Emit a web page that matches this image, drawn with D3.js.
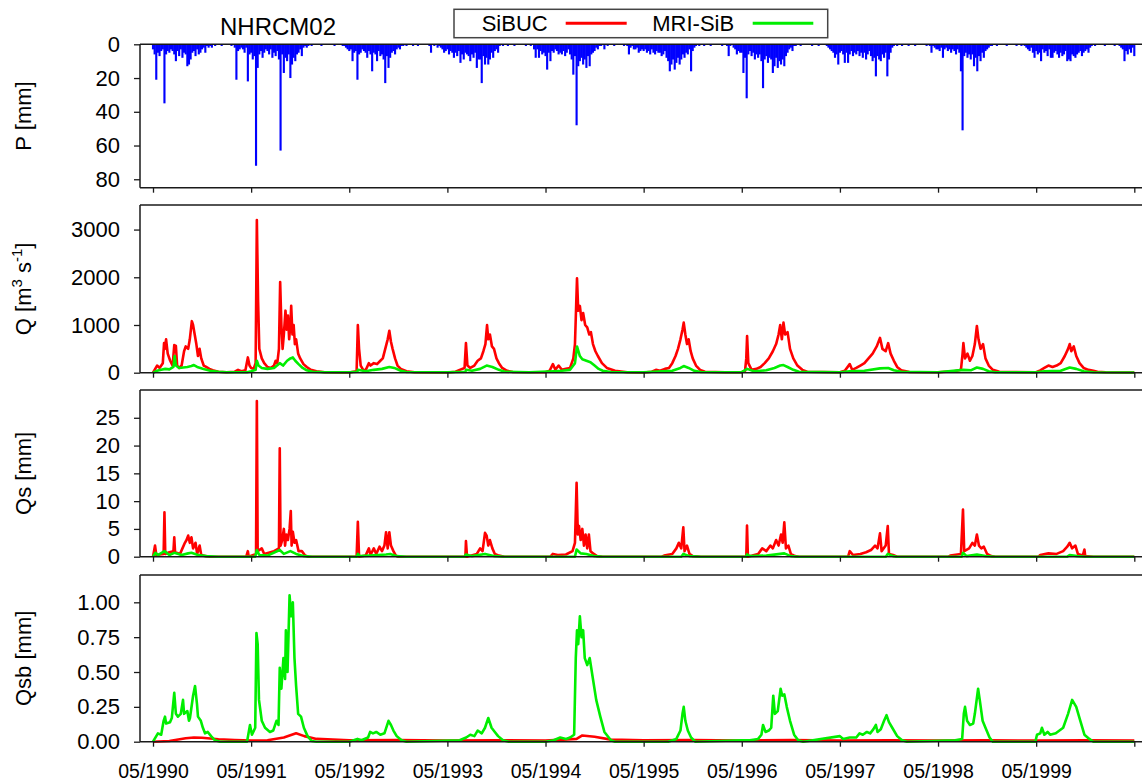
<!DOCTYPE html>
<html>
<head>
<meta charset="utf-8">
<script src="https://cdn.jsdelivr.net/npm/d3@7"></script>
<style>
  body { margin: 0; background: #fff; }
  text { font-family: "Liberation Sans", Arial, sans-serif; }
</style>
</head>
<body>
<div id="chart"></div>
<script>
// time is in months since 05/1990
const yearTicks = [0, 12, 24, 36, 48, 60, 72, 84, 96, 108, 120];

// precipitation [mm], one value every 0.2 month starting 05/1990
const pStep = 0.2;
const precip = [
  3,6,21,5,7, 4,3,35,6,4, 5,3,4,6,10, 4,7,3,8,5, 6,13,12,9,5, 4,7,3,6,5, 3,2,5,1,2, 1,2,0,1,0, 0,0,1,0,0, 0,0,0,1,0, 2,21,4,3,2, 3,5,2,22,6,
  5,9,7,72,14, 6,4,8,5,3, 4,6,3,8,5, 7,4,9,63,6, 17,8,10,6,20, 12,8,10,6,5, 3,7,2,1,2, 1,0,1,0,0, 0,0,0,1,0, 0,0,0,0,0, 0,1,0,0,0, 0,1,1,2,3,
  4,3,10,5,4, 21,6,5,3,4, 5,8,4,6,16, 5,6,10,4,7, 6,9,23,7,14, 8,5,4,6,3, 2,3,1,1,0, 1,0,0,0,1, 0,0,1,0,0, 0,0,0,0,1, 5,0,1,0,2, 1,2,3,5,4,
  3,6,4,5,8, 5,7,4,11,6, 9,5,6,7,10, 6,8,5,14,9, 9,23,7,12,8, 12,9,5,8,4, 3,5,1,0,1, 0,0,1,0,0, 0,1,0,0,0, 0,0,0,1,0, 0,1,0,3,8, 3,8,4,6,5,
  7,15,5,10,4, 5,3,4,6,5, 6,4,7,5,3, 6,9,18,7,48, 13,10,8,12,9, 14,7,13,6,5, 4,2,3,1,1, 0,3,0,1,0, 0,0,1,0,0, 0,0,0,1,0, 1,6,2,1,3, 3,2,5,4,3,
  4,3,5,4,6, 3,5,6,4,5, 5,7,6,4,8, 10,16,12,9,15, 11,8,12,9,6, 8,5,6,3,16, 4,2,1,0,1, 0,0,1,0,0, 0,1,0,0,0, 0,0,0,1,0, 0,1,7,1,0, 2,3,6,4,5,
  5,17,8,32,6, 4,7,5,9,6, 8,6,10,26,9, 7,11,8,9,17, 13,8,14,10,12, 9,13,7,5,3, 2,4,1,1,0, 0,1,0,0,0, 0,0,0,1,0, 0,0,1,0,0, 0,0,1,2,3, 4,5,8,6,12,
  5,4,6,11,5, 11,6,4,7,5, 6,4,7,5,8, 5,9,6,4,7, 10,8,19,7,9, 10,6,8,5,19, 9,5,2,1,0, 1,0,0,1,0, 0,0,1,0,0, 0,1,0,0,0, 0,0,0,1,0, 1,5,1,2,3,
  3,4,2,8,3, 2,4,3,5,3, 4,6,3,5,16, 51,7,5,8,6, 9,6,13,8,16, 7,10,5,8,4, 3,2,1,1,0, 0,1,0,0,0, 0,0,1,0,0, 0,0,0,1,0, 0,1,0,1,2, 3,4,2,5,8,
  4,6,5,10,3, 5,4,7,3,8, 8,5,4,6,8, 5,7,6,4,10, 9,10,6,7,8, 6,5,4,7,5, 4,3,5,2,1, 0,1,0,0,0, 0,0,1,0,0, 0,0,0,1,0, 0,1,2,3,10, 4,6,3,5,2,
  7
];

// discharge Q [m3/s], [month, value]
const qSibuc = [[0,0],[0.5,150],[0.8,100],[1.2,200],[1.35,620],[1.45,500],[1.6,700],[1.8,400],[2.1,250],[2.4,150],[2.6,580],[2.8,560],[2.95,150],[3.2,100],[3.5,150],[3.8,450],[4.0,550],[4.3,500],[4.5,700],[4.75,1080],[4.9,1000],[5.1,800],[5.3,600],[5.5,350],[5.7,500],[5.9,300],[6.2,150],[6.5,120],[6.9,80],[7.3,50],[8,20],[9,10],[10,20],[10.4,60],[10.8,30],[11.3,50],[11.6,320],[11.8,150],[12.0,100],[12.3,80],[12.55,200],[12.7,3200],[12.85,1500],[13.0,500],[13.3,300],[13.6,200],[14.0,120],[14.4,100],[14.8,150],[15.0,250],[15.2,200],[15.4,500],[15.55,1900],[15.7,1000],[15.85,500],[16.0,800],[16.2,1300],[16.35,900],[16.5,1200],[16.65,700],[16.8,1000],[16.9,1400],[17.05,800],[17.2,1000],[17.35,600],[17.5,700],[17.75,400],[18.0,300],[18.4,180],[18.8,120],[19.3,60],[20,30],[21,10],[23,5],
  [24,5],[24.5,20],[24.9,30],[25.05,1000],[25.2,500],[25.4,150],[25.7,60],[26,50],[26.4,200],[26.6,150],[27,200],[27.4,180],[27.8,250],[28.1,300],[28.4,500],[28.7,700],[28.9,880],[29.1,650],[29.3,500],[29.6,300],[29.9,150],[30.3,80],[31,30],[32,10],
  [36,5],[37,20],[37.5,60],[38.1,100],[38.27,620],[38.45,150],[38.8,100],[39.3,150],[39.7,250],[40.1,300],[40.4,450],[40.65,600],[40.85,1000],[41.0,700],[41.2,800],[41.45,550],[41.7,500],[42.0,300],[42.3,200],[42.7,100],[43.3,40],[44,15],
  [48,10],[48.5,40],[48.9,180],[49.2,60],[49.6,150],[50.0,60],[50.5,80],[51.0,100],[51.4,300],[51.6,600],[51.85,1980],[52.0,1300],[52.2,1400],[52.4,1100],[52.6,1250],[52.85,1000],[53.1,950],[53.35,800],[53.55,850],[53.8,600],[54.1,450],[54.4,350],[54.9,200],[55.5,100],[56.5,40],[58,10],
  [60,5],[61,20],[61.5,60],[62,40],[62.6,80],[63.1,100],[63.5,200],[63.9,350],[64.2,500],[64.5,700],[64.75,900],[64.9,1050],[65.1,800],[65.3,600],[65.5,700],[65.75,450],[66.0,300],[66.4,150],[66.9,60],[67.5,20],[70,10],
  [72,10],[72.4,40],[72.55,300],[72.65,770],[72.8,200],[73.2,60],[73.8,80],[74.3,120],[74.8,200],[75.3,300],[75.8,450],[76.2,600],[76.5,800],[76.7,1000],[76.9,700],[77.1,1050],[77.3,800],[77.6,850],[77.9,500],[78.3,300],[78.8,150],[79.4,60],[80,20],
  [84,10],[84.6,40],[85.2,180],[85.5,60],[86.0,100],[86.5,150],[87.0,200],[87.5,300],[88.0,400],[88.5,550],[88.9,730],[89.2,500],[89.6,450],[89.9,620],[90.2,400],[90.6,250],[91.0,120],[91.5,50],[92.5,15],
  [96,10],[97,20],[98,30],[98.8,60],[99.0,400],[99.1,620],[99.3,300],[99.6,400],[99.9,250],[100.2,350],[100.5,600],[100.75,980],[100.95,700],[101.2,500],[101.5,600],[101.8,300],[102.2,150],[102.7,60],[103.5,20],
  [108,10],[108.5,50],[109.0,100],[109.5,150],[110.0,120],[110.5,150],[111.0,200],[111.5,350],[111.9,500],[112.1,600],[112.3,450],[112.6,550],[112.9,350],[113.3,200],[113.8,100],[114.4,60],[115,40],[115.5,20],[116.5,10],[120,5]];

const qMri = [[0,0],[0.5,40],[1.0,60],[1.5,80],[2.0,70],[2.5,120],[2.65,350],[2.8,150],[3.2,100],[3.7,110],[4.2,120],[4.7,140],[5.0,160],[5.4,120],[5.8,100],[6.3,70],[7.0,40],[8,20],[9,10],[11.5,10],[12.0,30],[12.55,60],[12.7,250],[12.9,150],[13.3,100],[14,80],[14.8,100],[15.5,200],[15.9,150],[16.4,250],[16.8,300],[17.1,320],[17.4,250],[17.8,180],[18.3,100],[18.8,50],[19.5,20],[21,10],
  [24,10],[25.0,20],[25.05,60],[26,30],[27,60],[28,80],[28.9,120],[29.5,100],[30.3,40],[31,15],[36,10],[38.2,20],[38.3,60],[39,40],[40,80],[40.8,150],[41.5,120],[42.3,60],[43,20],[46,10],
  [49,30],[50,40],[51,60],[51.6,200],[51.85,550],[52.2,350],[52.5,280],[53,250],[53.5,220],[54,150],[54.5,80],[55,40],[56,15],[60,10],
  [63.5,40],[64.5,100],[64.9,140],[65.5,100],[66.2,40],[67,15],[72,10],[72.65,80],[73.5,30],[75,50],[76,100],[76.7,150],[77.1,160],[77.6,120],[78.3,60],[79,20],
  [84,10],[85.2,30],[87,40],[88.9,90],[89.9,100],[90.6,50],[91.5,20],[96,10],[99.1,60],[100,50],[100.75,110],[101.5,80],[102.2,30],[103,10],
  [108,10],[109,30],[111,40],[112.1,110],[112.9,80],[113.8,30],[115,10],[120,5]];

// surface runoff Qs [mm]
const qsSibuc = [[0,0],[0.25,2],[0.4,0.3],[1.3,0.5],[1.4,8],[1.5,0.5],[2.0,0.8],[2.5,1],[2.6,3.5],[2.7,0.8],[3.3,0.5],[3.6,1.5],[3.9,2.5],[4.1,3],[4.3,3.8],[4.5,2.5],[4.7,3.5],[4.9,1.5],[5.2,2.5],[5.4,0.5],[5.7,2],[5.9,0.3],[6.5,0.1],[7,0],
  [11.4,0],[11.6,1],[11.7,0],[12.6,0.5],[12.7,28],[12.8,1],[13.3,1.5],[13.6,0.5],[14.8,1],[15.4,1.5],[15.5,19.5],[15.6,2],[15.8,3],[16.0,5],[16.15,2],[16.3,4],[16.5,3],[16.7,5],[16.85,8.2],[16.95,2],[17.1,4.5],[17.3,2.5],[17.5,3],[17.8,1],[18.2,1],[18.6,0.2],[19,0],
  [24.9,0],[25.05,6.3],[25.2,0],[26,0.2],[26.4,1.5],[26.6,0.3],[27,1.5],[27.3,0.5],[27.7,1.8],[28.0,1],[28.3,2],[28.5,4.4],[28.7,1.5],[28.9,4.4],[29.1,2],[29.4,1],[29.7,0.2],[30,0],
  [38.2,0],[38.27,2.8],[38.4,0],[39.6,0.5],[40.0,1.5],[40.3,1],[40.6,4.3],[40.8,3.8],[41.0,2],[41.2,3],[41.5,1.5],[41.8,0.5],[42.3,0.2],[43,0],
  [48.6,0],[48.9,0.5],[49.5,0.3],[50.5,0.4],[51.3,1],[51.6,2.5],[51.8,13.3],[51.95,4],[52.1,5.5],[52.3,3],[52.5,5],[52.7,2],[52.9,4],[53.1,1.5],[53.3,4],[53.5,1],[53.9,0.5],[54.3,0.1],[55,0],
  [62.2,0],[62.5,0.2],[63.5,0.5],[64.0,1.5],[64.3,2.5],[64.6,1.5],[64.85,5.3],[65.0,1],[65.3,2],[65.6,0.5],[66,0.1],[67,0],
  [72.55,0],[72.64,5.6],[72.75,0],[73.3,0.2],[74,0.5],[74.5,1.5],[75,1],[75.5,2],[75.8,1.5],[76.2,3],[76.5,2],[76.8,4],[77.0,2.5],[77.2,6.2],[77.4,1.5],[77.7,2],[78,0.5],[78.5,0.1],[79,0],
  [85.0,0],[85.2,1],[85.6,0.3],[86.5,0.5],[87.2,0.8],[87.8,1.2],[88.3,2],[88.6,1.5],[88.9,4.2],[89.1,1],[89.6,2],[89.85,5.5],[90.0,0.5],[90.5,0.3],[91,0],
  [97.3,0],[97.5,0.2],[98.8,0.5],[99.05,8.5],[99.2,1],[99.8,1.5],[100.2,2.5],[100.5,2],[100.75,4],[101.0,2],[101.3,1.5],[101.6,1.8],[102.0,0.5],[102.5,0.1],[103,0],
  [108.3,0],[108.5,0.3],[109.5,0.6],[110.5,0.5],[111.3,1],[111.8,1.8],[112.1,2.5],[112.4,1.5],[112.8,2],[113.1,0.5],[113.7,0.2],[113.9,1.3],[114.0,0.1],[115,0],[120,0]];

const qsMri = [[0,0],[0.3,0.7],[0.6,0.3],[1.4,1],[2.0,0.3],[2.6,0.7],[3.5,0.3],[4.3,0.6],[4.7,0.7],[5.5,0.3],[6.5,0.1],[8,0],[12.5,0],[12.7,1.2],[13,0.3],[14,0.2],[15.5,1.2],[16,0.5],[16.8,1],[17.5,0.5],[18.5,0.1],[19.5,0],
  [24.9,0],[25.05,0.5],[25.3,0.1],[26.5,0.2],[28.5,0.4],[29,0.5],[29.8,0.1],[31,0],[38.1,0],[38.27,0.4],[39,0.1],[40.6,0.5],[41.8,0.1],[43,0],
  [51.6,0],[51.8,1.3],[52.3,0.6],[53,0.5],[54,0.1],[55,0],[64.6,0],[64.85,0.5],[65.6,0.1],[67,0],[72.5,0],[72.64,0.4],[73,0.1],[75,0.2],[77.2,0.6],[78,0.1],[79,0],
  [89.6,0],[89.85,0.5],[90.5,0.1],[91,0],[98.9,0],[99.05,0.7],[99.5,0.1],[100.75,0.4],[101.8,0.1],[103,0],[111.8,0],[112.1,0.3],[113,0.1],[114,0],[120,0]];

// baseflow Qsb [mm]
const qsbSibuc = [[0,0],[2,0.005],[4,0.025],[5,0.03],[6,0.028],[8,0.018],[10,0.012],[12,0.008],[14,0.01],[16,0.03],[17.5,0.06],[18.5,0.04],[20,0.02],[24,0.01],[30,0.012],[36,0.008],[42,0.01],[48,0.008],[51.8,0.02],[52.5,0.045],[54,0.035],[56,0.015],[60,0.01],[66,0.012],[72,0.008],[78,0.012],[84,0.008],[90,0.01],[96,0.008],[102,0.01],[108,0.008],[114,0.01],[120,0.008]];

const qsbMri = [[0,0],[0.6,0.06],[1.0,0.05],[1.3,0.15],[1.47,0.18],[1.6,0.13],[2.08,0.14],[2.3,0.17],[2.6,0.35],[2.8,0.2],[3.05,0.18],[3.4,0.2],[3.67,0.3],[3.8,0.2],[4.2,0.22],[4.4,0.15],[4.52,0.17],[4.9,0.33],[5.14,0.4],[5.38,0.27],[5.5,0.18],[5.85,0.15],[6.1,0.1],[6.36,0.06],[6.7,0.07],[7.1,0.04],[7.58,0.01],[8.2,0],
  [11.5,0],[11.86,0.12],[12.1,0.05],[12.5,0.1],[12.65,0.78],[12.8,0.7],[12.96,0.3],[13.3,0.15],[13.7,0.1],[14.3,0.07],[14.7,0.08],[15.1,0.15],[15.35,0.12],[15.5,0.53],[15.7,0.38],[15.95,0.6],[16.15,0.45],[16.25,0.8],[16.45,0.5],[16.7,1.05],[16.9,0.9],[17.1,1.0],[17.3,0.6],[17.5,0.4],[17.75,0.2],[18.1,0.18],[18.45,0.1],[18.9,0.04],[19.4,0.005],[20,0],
  [24,0],[25.0,0.02],[25.5,0.01],[26.3,0.03],[26.55,0.07],[26.9,0.06],[27.3,0.07],[27.8,0.05],[28.3,0.06],[28.8,0.15],[29.1,0.12],[29.4,0.08],[29.8,0.04],[30.4,0.01],[31,0],
  [37.5,0.01],[38.3,0.03],[38.8,0.05],[39.3,0.04],[39.7,0.08],[40.2,0.06],[40.6,0.1],[41.0,0.17],[41.4,0.1],[41.8,0.07],[42.2,0.04],[42.8,0.01],[43.5,0],
  [48,0],[49,0.01],[49.8,0.03],[50.5,0.02],[51.0,0.03],[51.5,0.05],[51.7,0.6],[51.85,0.8],[52.0,0.7],[52.2,0.9],[52.4,0.75],[52.6,0.8],[52.8,0.6],[53.1,0.55],[53.4,0.6],[53.8,0.45],[54.2,0.3],[54.7,0.18],[55.2,0.07],[56,0.01],[56.5,0],
  [63,0],[64.0,0.02],[64.5,0.08],[64.75,0.2],[64.9,0.25],[65.1,0.15],[65.4,0.08],[65.8,0.03],[66.3,0],
  [72,0.01],[73,0.01],[74,0.02],[74.4,0.05],[74.6,0.12],[74.9,0.07],[75.3,0.08],[75.6,0.1],[75.85,0.33],[76.05,0.2],[76.4,0.22],[76.75,0.38],[76.95,0.33],[77.2,0.34],[77.5,0.25],[77.9,0.15],[78.4,0.05],[78.9,0.01],[79.5,0],
  [84,0.04],[84.4,0.02],[85.2,0.03],[86.0,0.03],[86.4,0.06],[86.8,0.05],[87.3,0.07],[87.7,0.06],[88.1,0.09],[88.4,0.12],[88.6,0.07],[89.0,0.09],[89.4,0.15],[89.7,0.19],[90.0,0.14],[90.4,0.1],[91.0,0.04],[91.6,0.01],[92.2,0],
  [98.1,0.01],[98.95,0.02],[99.15,0.2],[99.3,0.25],[99.55,0.15],[99.9,0.12],[100.3,0.13],[100.5,0.2],[100.9,0.38],[101.1,0.3],[101.45,0.15],[101.8,0.1],[102.3,0.03],[102.7,0],
  [107.9,0],[108.1,0.05],[108.5,0.06],[108.7,0.1],[109.0,0.05],[109.4,0.07],[109.7,0.05],[110.4,0.06],[111.3,0.1],[111.9,0.2],[112.4,0.3],[112.9,0.25],[113.4,0.15],[113.9,0.05],[114.5,0.02],[115,0],[120,0]];

const seriesNames = ["SiBUC", "MRI-SiB"];
const seriesColors = ["#ff0000", "#00ee00"];

const width = 1142, height = 784;
const plotLeft = 140, plotRight = 1142;

const svg = d3.select("#chart").append("svg")
    .attr("width", width)
    .attr("height", height);

svg.append("defs").append("clipPath").attr("id", "plotclip")
  .append("rect").attr("x", plotLeft).attr("y", 0).attr("width", plotRight - plotLeft).attr("height", height);

const x = d3.scaleLinear().domain([0, 120]).range([153, 1134.3]);
const barW = x(pStep) - x(0) + 0.5;

// panel layout
const panels = [
  {label: "P [mm]", top: 44.3, bottom: 187.7, y: d3.scaleLinear().domain([0, 85]).range([44.3, 187.7]), ticks: [0, 20, 40, 60, 80], fmt: d3.format("d"), zeroTop: true},
  {label: "Q", top: 205, bottom: 372.7, y: d3.scaleLinear().domain([0, 3515]).range([372.7, 205]), ticks: [0, 1000, 2000, 3000], fmt: d3.format("d"), series: [qSibuc, qMri]},
  {label: "Qs [mm]", top: 390, bottom: 556.7, y: d3.scaleLinear().domain([0, 30]).range([556.7, 390]), ticks: [0, 5, 10, 15, 20, 25], fmt: d3.format("d"), series: [qsSibuc, qsMri]},
  {label: "Qsb [mm]", top: 575, bottom: 741.7, y: d3.scaleLinear().domain([0, 1.196]).range([741.7, 575]), ticks: [0, 0.25, 0.5, 0.75, 1.0], fmt: d3.format(".2f"), series: [qsbSibuc, qsbMri]}
];

panels.forEach((p, i) => {
  const g = svg.append("g");

  // data
  const plot = g.append("g").attr("clip-path", "url(#plotclip)");
  if (p.zeroTop) {
    plot.selectAll("rect")
      .data(precip)
      .enter()
      .append("rect")
      .attr("x", (d, k) => x(k * pStep) - barW / 2)
      .attr("y", p.y(0))
      .attr("width", barW)
      .attr("height", d => p.y(d) - p.y(0))
      .attr("fill", "#0000ff");
  } else {
    const line = d3.line().x(d => x(d[0])).y(d => p.y(d[1]));
    p.series.forEach((s, j) => {
      plot.append("path")
        .attr("d", line(s))
        .attr("fill", "none")
        .attr("stroke", seriesColors[j])
        .attr("stroke-width", 2.6)
        .attr("stroke-linejoin", "round");
    });
  }

  // frame: top, left, bottom
  const frame = g.append("g").attr("stroke", "#1a1a1a").attr("stroke-width", 1.5);
  frame.append("line").attr("x1", plotLeft).attr("x2", plotRight).attr("y1", p.top).attr("y2", p.top);
  frame.append("line").attr("x1", plotLeft).attr("x2", plotLeft).attr("y1", p.top).attr("y2", p.bottom);
  frame.append("line").attr("x1", plotLeft).attr("x2", plotRight).attr("y1", p.bottom).attr("y2", p.bottom);

  // y axis
  g.append("g")
    .attr("transform", `translate(${plotLeft},0)`)
    .call(d3.axisLeft(p.y).tickValues(p.ticks).tickFormat(p.fmt).tickSize(6).tickPadding(14))
    .call(a => a.select(".domain").remove())
    .call(a => a.selectAll("line").attr("stroke", "#1a1a1a").attr("stroke-width", 1.3))
    .call(a => a.selectAll("text").attr("font-size", 22).attr("font-family", "Liberation Sans, Arial, sans-serif").attr("fill", "#000"));

  // x axis
  const last = i === panels.length - 1;
  g.append("g")
    .attr("transform", `translate(0,${p.bottom})`)
    .call(d3.axisBottom(x).tickValues(yearTicks).tickSize(5).tickPadding(17)
      .tickFormat(m => (last && m < 120) ? "05/" + (1990 + m / 12) : ""))
    .call(a => a.select(".domain").remove())
    .call(a => a.selectAll("line").attr("stroke", "#1a1a1a").attr("stroke-width", 1.3))
    .call(a => a.selectAll("text").attr("font-size", 19.5).attr("font-family", "Liberation Sans, Arial, sans-serif").attr("fill", "#000"));

  // axis title
  const cy = (p.top + p.bottom) / 2;
  const t = svg.append("text")
    .attr("transform", `translate(31,${cy}) rotate(-90)`)
    .attr("text-anchor", "middle")
    .attr("font-size", 22);
  if (p.label === "Q") {
    t.append("tspan").text("Q [m");
    t.append("tspan").attr("dy", -9).attr("font-size", 15).text("3");
    t.append("tspan").attr("dy", 9).text(" s");
    t.append("tspan").attr("dy", -9).attr("font-size", 15).text("-1");
    t.append("tspan").attr("dy", 9).text("]");
  } else {
    t.text(p.label);
  }
});

// title
svg.append("text")
  .attr("x", 278)
  .attr("y", 35)
  .attr("text-anchor", "middle")
  .attr("font-size", 24)
  .text("NHRCM02");

// legend
const legend = svg.append("g");
legend.append("rect")
  .attr("x", 454).attr("y", 9.3).attr("width", 373.7).attr("height", 28.4)
  .attr("fill", "#fff").attr("stroke", "#444").attr("stroke-width", 1.5);
const legendX = [481.7, 652.3], legendLine = [[565.7, 626.7], [752.7, 813.3]];
seriesNames.forEach((name, j) => {
  legend.append("text").attr("x", legendX[j]).attr("y", 31).attr("font-size", 22).text(name);
  legend.append("line")
    .attr("x1", legendLine[j][0]).attr("x2", legendLine[j][1])
    .attr("y1", 23.3).attr("y2", 23.3)
    .attr("stroke", seriesColors[j]).attr("stroke-width", 3);
});
</script>
</body>
</html>
